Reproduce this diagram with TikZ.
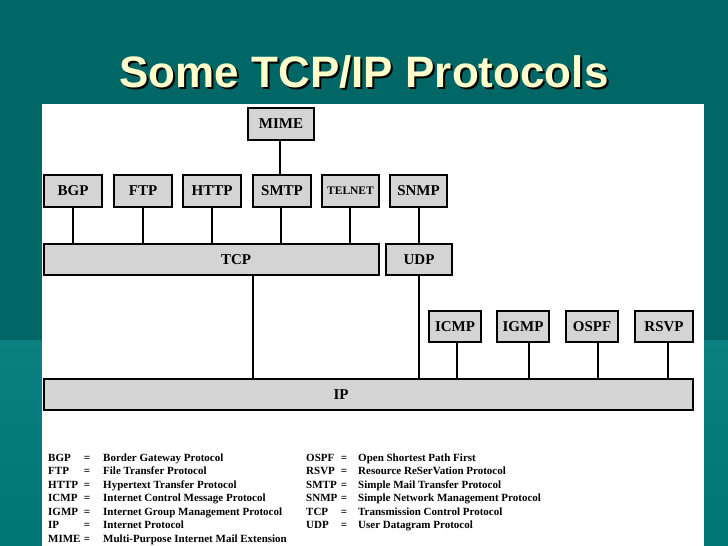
\documentclass[tikz,border=0pt]{standalone}
\usepackage{fontspec}
\setmainfont{Liberation Serif}
\newfontfamily\titlefont{Liberation Sans}
\definecolor{tealtop}{HTML}{006666}
\definecolor{tealbot}{HTML}{007575}
\definecolor{tealband}{HTML}{0A8080}
\definecolor{boxgray}{HTML}{D4D4D4}
\definecolor{titleyel}{HTML}{FFFFCC}
\tikzset{
  pbox/.style={draw=black, line width=2pt, fill=boxgray, inner sep=0pt,
    font=\fontsize{15}{18}\selectfont\bfseries},
  small/.style={font=\fontsize{11.5}{14}\selectfont\bfseries},
  conn/.style={line width=1.3pt, black},
  leg/.style={anchor=base west, inner sep=0pt, font=\fontsize{11}{13}\selectfont\bfseries},
  legeq/.style={anchor=base, inner sep=0pt, font=\fontsize{11}{13}\selectfont\bfseries}
}
\begin{document}
\begin{tikzpicture}[x=1pt,y=-1pt]
\useasboundingbox (0,0) rectangle (728,546);
% background
\fill[tealtop] (0,0) rectangle (728,546);
\shade[top color=tealband, bottom color=tealbot] (0,340) rectangle (728,546);
\fill[white] (42,104) rectangle (704,546);
% title
\node[anchor=base, text=black, font=\titlefont\fontsize{44}{50}\selectfont\bfseries] (titleshadow) at (366,89) {Some TCP/IP Protocols};
\node[anchor=base, text=titleyel, font=\titlefont\fontsize{44}{50}\selectfont\bfseries] (title) at (364,87) {Some TCP/IP Protocols};
% boxes
\node[pbox, minimum width=66, minimum height=32] (mime) at (281,124) {MIME};
\node[pbox, minimum width=58, minimum height=32] (bgp) at (73,191) {BGP};
\node[pbox, minimum width=58, minimum height=32] (ftp) at (143,191) {FTP};
\node[pbox, minimum width=58, minimum height=32] (http) at (212,191) {HTTP};
\node[pbox, minimum width=58, minimum height=32] (smtp) at (282,191) {SMTP};
\node[pbox, small, minimum width=57, minimum height=32] (telnet) at (350.5,191) {TELNET};
\node[pbox, minimum width=57, minimum height=32] (snmp) at (418.5,191) {SNMP};
\node[pbox, minimum width=335, minimum height=31] (tcp) at (211.5,259.5) {\hspace*{49pt}TCP};
\node[pbox, minimum width=66, minimum height=31] (udp) at (419,259.5) {UDP};
\node[pbox, minimum width=52, minimum height=31] (icmp) at (455,326.5) {ICMP};
\node[pbox, minimum width=52, minimum height=31] (igmp) at (523,326.5) {IGMP};
\node[pbox, minimum width=52, minimum height=31] (ospf) at (592,326.5) {OSPF};
\node[pbox, minimum width=58, minimum height=31] (rsvp) at (664,326.5) {RSVP};
\node[pbox, minimum width=649, minimum height=31] (ip) at (368.5,394.5) {IP\hspace*{55pt}};
% connectors
\draw[conn] ([xshift=-1pt]mime.south) -- ([xshift=-1pt]mime.south |- smtp.north);
\draw[conn] (bgp.south) -- (bgp.south |- tcp.north);
\draw[conn] (ftp.south) -- (ftp.south |- tcp.north);
\draw[conn] (http.south) -- (http.south |- tcp.north);
\draw[conn] ([xshift=-1pt]smtp.south) -- ([xshift=-1pt]smtp.south |- tcp.north);
\draw[conn] ([xshift=-0.5pt]telnet.south) -- ([xshift=-0.5pt]telnet.south |- tcp.north);
\draw[conn] ([xshift=0.5pt]snmp.south) -- ([xshift=0.5pt]snmp.south |- udp.north);
\draw[conn] ([xshift=41.5pt]tcp.south) -- ([xshift=41.5pt]tcp.south |- ip.north);
\draw[conn] (udp.south) -- (udp.south |- ip.north);
\draw[conn] ([xshift=2pt]icmp.south) -- ([xshift=2pt]icmp.south |- ip.north);
\draw[conn] ([xshift=6pt]igmp.south) -- ([xshift=6pt]igmp.south |- ip.north);
\draw[conn] ([xshift=6pt]ospf.south) -- ([xshift=6pt]ospf.south |- ip.north);
\draw[conn] ([xshift=4pt]rsvp.south) -- ([xshift=4pt]rsvp.south |- ip.north);
% legend left
\foreach \ab/\de [count=\i] in {
  BGP/Border Gateway Protocol,
  FTP/File Transfer Protocol,
  HTTP/Hypertext Transfer Protocol,
  ICMP/Internet Control Message Protocol,
  IGMP/Internet Group Management Protocol,
  IP/Internet Protocol,
  MIME/Multi-Purpose Internet Mail Extension}{
  \node[leg] (la\i) at (48,{461+13.5*(\i-1)}) {\ab};
  \node[legeq] (le\i) at (87,{461+13.5*(\i-1)}) {=};
  \node[leg] (ld\i) at (103,{461+13.5*(\i-1)}) {\de};
}
% legend right
\foreach \ab/\de [count=\i] in {
  OSPF/Open Shortest Path First,
  RSVP/Resource ReSerVation Protocol,
  SMTP/Simple Mail Transfer Protocol,
  SNMP/Simple Network Management Protocol,
  TCP/Transmission Control Protocol,
  UDP/User Datagram Protocol}{
  \node[leg] (ra\i) at (306,{461+13.5*(\i-1)}) {\ab};
  \node[legeq] (re\i) at (344,{461+13.5*(\i-1)}) {=};
  \node[leg] (rd\i) at (358,{461+13.5*(\i-1)}) {\de};
}
\end{tikzpicture}
\end{document}
